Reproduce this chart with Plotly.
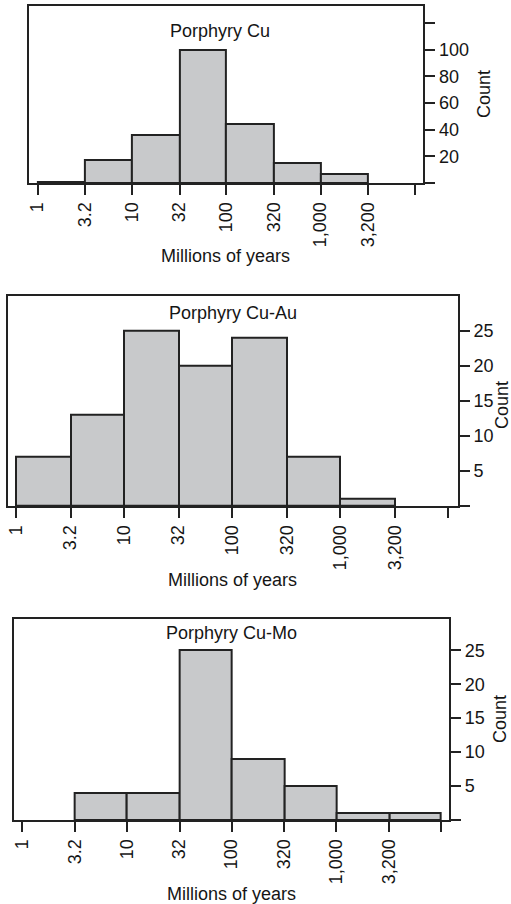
import numpy as np
import plotly.graph_objects as go

# Data
bin_edges = [1, 3.2, 10, 32, 100, 320, 1000, 3200, 10000]
tick_labels = ["1", "3.2", "10", "32", "100", "320", "1,000", "3,200", ""]
titles = ["Porphyry Cu", "Porphyry Cu-Au", "Porphyry Cu-Mo"]
counts_cu = [1, 17, 36, 100, 44, 15, 7, 0]
counts_cuau = [7, 13, 25, 20, 24, 7, 1, 0]
counts_cumo = [0, 4, 4, 25, 9, 5, 1, 1]
yticks_cu = [0, 20, 40, 60, 80, 100, 120]
yticklabels_cu = ["", "20", "40", "60", "80", "100", ""]
yticks_small = [0, 5, 10, 15, 20, 25]
yticklabels_small = ["", "5", "10", "15", "20", "25"]

W, H = 511, 904
FONT = "Liberation Sans, Arial, Helvetica, sans-serif"
TXT = "#151515"
LINE = "#222222"
FILL = "#c8c9cb"

log_edges = np.log10(bin_edges)
centers = (log_edges[:-1] + log_edges[1:]) / 2
widths = log_edges[1:] - log_edges[:-1]

# panel pixel geometry: (left, right, top, bottom), x range, y range
panels = [
    dict(counts=counts_cu, box=(27, 423, 6, 183), xr=(-0.092, 4.090), yr=(0, 132.7),
         yt=yticks_cu, ytl=yticklabels_cu,
         title=(219, 31.3), xlab=(224.5, 256), ylab=(484, 94)),
    dict(counts=counts_cuau, box=(6, 457.7, 295.7, 506), xr=(-0.074, 4.0895), yr=(0, 30.04),
         yt=yticks_small, ytl=yticklabels_small,
         title=(231.7, 312.7), xlab=(231.7, 580), ylab=(502, 405)),
    dict(counts=counts_cumo, box=(11.7, 449, 619, 820), xr=(-0.079, 4.078), yr=(0, 29.6),
         yt=yticks_small, ytl=yticklabels_small,
         title=(230, 633.3), xlab=(230, 894), ylab=(500, 719)),
]

fig = go.Figure()
annotations = []
layout = {}
for i, p in enumerate(panels):
    n = i + 1
    xa = "x" if n == 1 else f"x{n}"
    ya = "y" if n == 1 else f"y{n}"
    # empty bins are not drawn (no outline on the axis)
    yvals = [c if c > 0 else None for c in p["counts"]]
    fig.add_trace(go.Bar(
        x=centers, y=yvals, width=widths,
        marker=dict(color=FILL, line=dict(color=LINE, width=2)),
        xaxis=xa, yaxis=ya, showlegend=False, hoverinfo="skip"))
    l, r, t, b = p["box"]
    layout["xaxis" if n == 1 else f"xaxis{n}"] = dict(
        domain=[l / W, r / W], range=list(p["xr"]), anchor=ya,
        tickvals=list(log_edges), ticktext=tick_labels, tickangle=-90,
        ticks="outside", ticklen=10, tickwidth=2, tickcolor=LINE,
        showline=True, linewidth=2, linecolor=LINE, mirror=True,
        showgrid=False, zeroline=False,
        tickfont=dict(family=FONT, size=18, color=TXT))
    layout["yaxis" if n == 1 else f"yaxis{n}"] = dict(
        domain=[1 - b / H, 1 - t / H], range=list(p["yr"]), anchor=xa, side="right",
        tickvals=p["yt"], ticktext=p["ytl"],
        ticks="outside", ticklen=10, tickwidth=2, tickcolor=LINE,
        showline=True, linewidth=2, linecolor=LINE, mirror=True,
        showgrid=False, zeroline=False,
        tickfont=dict(family=FONT, size=18, color=TXT))
    annotations.append(dict(text=titles[i], x=p["title"][0] / W, y=1 - p["title"][1] / H,
                            xref="paper", yref="paper", showarrow=False,
                            xanchor="center", yanchor="middle",
                            font=dict(family=FONT, size=18, color=TXT)))
    annotations.append(dict(text="Millions of years", x=p["xlab"][0] / W, y=1 - p["xlab"][1] / H,
                            xref="paper", yref="paper", showarrow=False,
                            xanchor="center", yanchor="middle",
                            font=dict(family=FONT, size=18, color=TXT)))
    annotations.append(dict(text="Count", x=p["ylab"][0] / W, y=1 - p["ylab"][1] / H,
                            xref="paper", yref="paper", showarrow=False, textangle=-90,
                            xanchor="center", yanchor="middle",
                            font=dict(family=FONT, size=18, color=TXT)))

fig.update_layout(
    width=W, height=H, margin=dict(l=0, r=0, t=0, b=0),
    paper_bgcolor="white", plot_bgcolor="white",
    bargap=0, annotations=annotations, **layout)

fig.write_html("out.html")
